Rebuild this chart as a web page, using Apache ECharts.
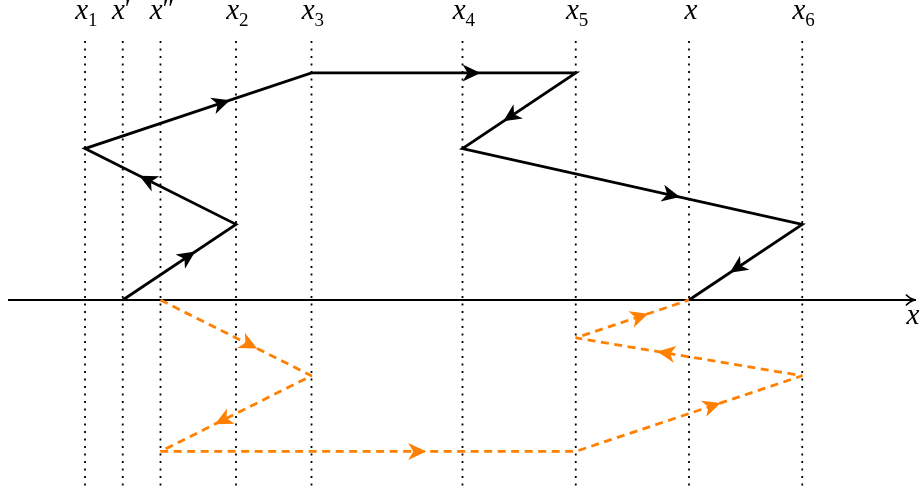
<!DOCTYPE html>
<html><head><meta charset="utf-8">
<script src="https://cdn.jsdelivr.net/npm/echarts@6/dist/echarts.min.js"></script>
<style>html,body{margin:0;padding:0;background:#fff}#c{width:920px;height:493px}</style>
</head><body><div id="c"></div>
<script>
// Vertical guide positions and their labels
const tickPos    = [0, 0.5, 1, 2, 3, 5, 6.5, 8, 9.5];
const tickBase   = ['x', 'x', 'x', 'x', 'x', 'x', 'x', 'x', 'x'];
const tickSuffix = ['1', '\u2032', '\u2033', '2', '3', '4', '5', '', '6'];

// Black (solid) path
const blackX = [0.5, 2, 0, 3, 6.5, 5, 9.5, 8];
const blackY = [0, 1, 2, 3, 3, 2, 1, 0];

// Orange (dashed) path
const orangeX = [1, 3, 1, 6.5, 9.5, 6.5, 8];
const orangeY = [0, -1, -2, -2, -1, -0.5, 0];

// Axis extent
const axisX = [-1.02, 10.98];
const axisY = [0, 0];
const axisName = 'x';

const ARROW_AT = 0.64;
const GUIDE_TOP = 3.42, GUIDE_BOTTOM = -2.5, LABEL_Y = 3.78;
const ORANGE = '#ff8000';
const SERIF = '"Liberation Serif", serif';

function segs(xs, ys) {
  const out = [];
  for (let i = 0; i < xs.length - 1; i++) out.push([xs[i], ys[i], xs[i + 1], ys[i + 1]]);
  return out;
}
function pairs(xs, ys) { return xs.map((x, i) => [x, ys[i]]); }

function arrowRender(color) {
  return function (params, api) {
    const p0 = api.coord([api.value(0), api.value(1)]);
    const p1 = api.coord([api.value(2), api.value(3)]);
    const dx = p1[0] - p0[0], dy = p1[1] - p0[1];
    const len = Math.hypot(dx, dy);
    const ux = dx / len, uy = dy / len, nx = -uy, ny = ux;
    const tx = p0[0] + dx * ARROW_AT, ty = p0[1] + dy * ARROW_AT;
    const L = 18, W = 8.5, N = 13;
    return {
      type: 'polygon',
      shape: { points: [
        [tx, ty],
        [tx - L * ux + W * nx, ty - L * uy + W * ny],
        [tx - N * ux, ty - N * uy],
        [tx - L * ux - W * nx, ty - L * uy - W * ny]
      ] },
      style: { fill: color }
    };
  };
}

function txt(text, x, y, size, italic, align, family) {
  return { type: 'text', style: { text: text, x: x, y: y,
    font: (italic ? 'italic ' : '') + size + 'px ' + (family || SERIF),
    fill: '#000', align: align, verticalAlign: 'middle' } };
}

const chart = echarts.init(document.getElementById('c'));
chart.setOption({
  animation: false,
  backgroundColor: '#fff',
  grid: { left: 9.5, right: 4.5, top: 39.6, bottom: 2.2 },
  xAxis: { type: 'value', min: -1, max: 11, show: false },
  yAxis: { type: 'value', min: -2.52, max: 3.44, show: false },
  series: [
    { // dotted guides
      type: 'custom', clip: false, z: 1,
      data: tickPos.map(x => [x]),
      renderItem: function (params, api) {
        const a = api.coord([api.value(0), GUIDE_TOP]);
        const b = api.coord([api.value(0), GUIDE_BOTTOM]);
        return { type: 'line', shape: { x1: a[0], y1: a[1], x2: b[0], y2: b[1] },
          style: { stroke: '#000', lineWidth: 1.8, lineDash: [1.8, 5.7], lineCap: 'butt' } };
      }
    },
    { // top labels
      type: 'custom', clip: false, z: 5,
      data: tickPos.map(x => [x]),
      renderItem: function (params, api) {
        const i = params.dataIndex;
        const p = api.coord([api.value(0), LABEL_Y]);
        const suf = tickSuffix[i];
        const isPrime = suf === '\u2032' || suf === '\u2033';
        const children = [];
        if (!suf) {
          children.push(txt(tickBase[i], p[0] + 2, p[1] - 2, 29, true, 'center'));
        } else if (isPrime) {
          children.push(txt(tickBase[i], p[0] + 2, p[1] - 2, 29, true, 'right'));
          children.push(txt(suf, p[0] + 2, p[1] - 3, 29, false, 'left'));
        } else {
          children.push(txt(tickBase[i], p[0] + 3, p[1] - 2, 29, true, 'right'));
          children.push(txt(suf, p[0] + 3, p[1] + 7, 19, false, 'left'));
        }
        return { type: 'group', children: children };
      }
    },
    { // axis line
      type: 'line', z: 2, data: pairs(axisX, axisY), showSymbol: false, silent: true,
      lineStyle: { color: '#000', width: 1.8 }
    },
    { // axis arrow + name
      type: 'custom', clip: false, z: 3,
      data: [[axisX[1], axisY[1]]],
      renderItem: function (params, api) {
        const p = api.coord([api.value(0), api.value(1)]);
        const tx = p[0] + 2, ty = p[1];
        return { type: 'group', children: [
          { type: 'bezierCurve', shape: { x1: tx - 10, y1: ty - 5.5, x2: tx, y2: ty, cpx1: tx - 6, cpy1: ty - 0.8 },
            style: { stroke: '#000', lineWidth: 1.7, fill: null } },
          { type: 'bezierCurve', shape: { x1: tx - 10, y1: ty + 5.5, x2: tx, y2: ty, cpx1: tx - 6, cpy1: ty + 0.8 },
            style: { stroke: '#000', lineWidth: 1.7, fill: null } },
          txt(axisName, p[0] - 1, p[1] + 16, 29, true, 'center')
        ] };
      }
    },
    { // black path
      type: 'line', z: 4, data: pairs(blackX, blackY), showSymbol: false, silent: true,
      lineStyle: { color: '#000', width: 2.8, join: 'miter' }
    },
    { // orange path
      type: 'line', z: 4, data: pairs(orangeX, orangeY), showSymbol: false, silent: true,
      lineStyle: { color: ORANGE, width: 2.8, type: [8, 5.5] }
    },
    { type: 'custom', clip: false, z: 6, data: segs(blackX, blackY), renderItem: arrowRender('#000') },
    { type: 'custom', clip: false, z: 6, data: segs(orangeX, orangeY), renderItem: arrowRender(ORANGE) }
  ]
});
</script>
</body></html>
